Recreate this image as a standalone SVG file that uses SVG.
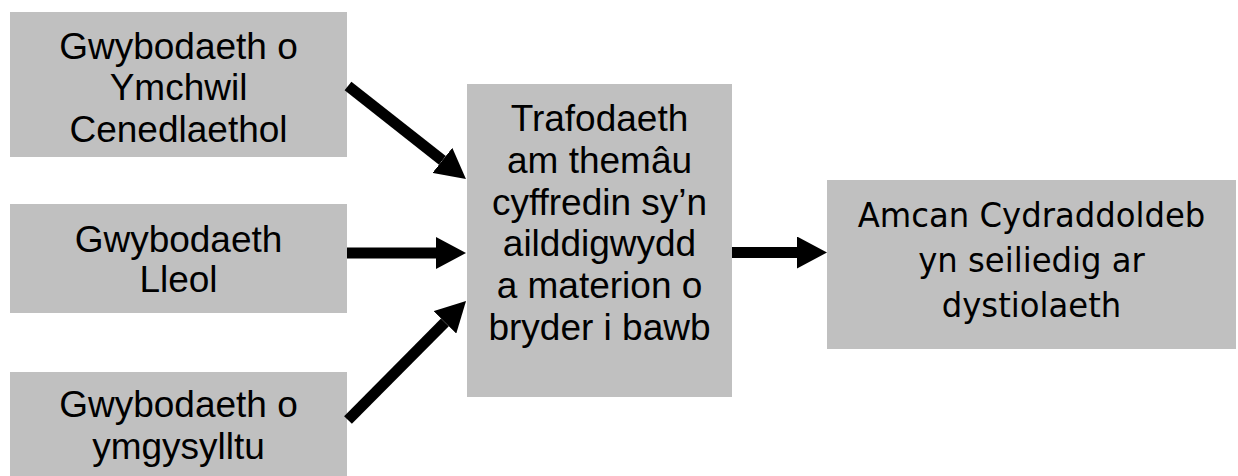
<svg xmlns="http://www.w3.org/2000/svg" width="1238" height="476" viewBox="0 0 1238 476">
<style>
.box{fill:#C0C0C0}
.t{font-family:"Liberation Sans",Arial,sans-serif;font-size:37px;fill:#000;text-anchor:middle}
.t2{font-family:"DejaVu Sans",Tahoma,sans-serif;font-size:34px;fill:#000;text-anchor:middle}
.c{stroke:#000;stroke-width:11;fill:none;marker-end:url(#ah)}
</style>
<defs>
<marker id="ah" markerUnits="userSpaceOnUse" markerWidth="30" markerHeight="32" refX="0" refY="16" orient="auto" viewBox="0 0 30 32">
<path d="M0,0 L30,16 L0,32 Z" fill="#000"/>
</marker>
</defs>
<rect width="1238" height="476" fill="#fff"/>
<g id="n1">
<rect class="box" x="10" y="12" width="337" height="145"/>
<text class="t" x="178.5" y="59">Gwybodaeth o</text>
<text class="t" x="178.5" y="100">Ymchwil</text>
<text class="t" x="178.5" y="141.5">Cenedlaethol</text>
</g>
<g id="n2">
<rect class="box" x="10" y="204" width="337" height="109"/>
<text class="t" x="178.5" y="251.5">Gwybodaeth</text>
<text class="t" x="178.5" y="292">Lleol</text>
</g>
<g id="n3">
<rect class="box" x="10" y="372" width="337" height="110"/>
<text class="t" x="178.5" y="417">Gwybodaeth o</text>
<text class="t" x="178.5" y="458.5">ymgysylltu</text>
</g>
<g id="n4">
<rect class="box" x="467" y="84" width="265" height="313"/>
<text class="t" x="599.5" y="131">Trafodaeth</text>
<text class="t" x="599.5" y="172.8">am themâu</text>
<text class="t" x="599.5" y="214.6">cyffredin sy’n</text>
<text class="t" x="599.5" y="256.4">ailddigwydd</text>
<text class="t" x="599.5" y="298.2">a materion o</text>
<text class="t" x="599.5" y="340">bryder i bawb</text>
</g>
<g id="n5">
<rect class="box" x="827" y="180" width="409" height="169"/>
<g transform="translate(1031.5,0) scale(0.95,1)">
<text class="t2" x="0" y="226.7">Amcan Cydraddoldeb</text>
<text class="t2" x="0" y="271.7">yn seiliedig ar</text>
<text class="t2" x="0" y="316.7">dystiolaeth</text>
</g>
</g>
<g id="connectors">
<line class="c" x1="348" y1="86" x2="442.4" y2="160.4"/>
<line class="c" x1="347" y1="253" x2="436" y2="253"/>
<line class="c" x1="348" y1="420" x2="444.9" y2="322.3"/>
<line class="c" x1="732" y1="252.5" x2="797" y2="252.5"/>
</g>
</svg>
